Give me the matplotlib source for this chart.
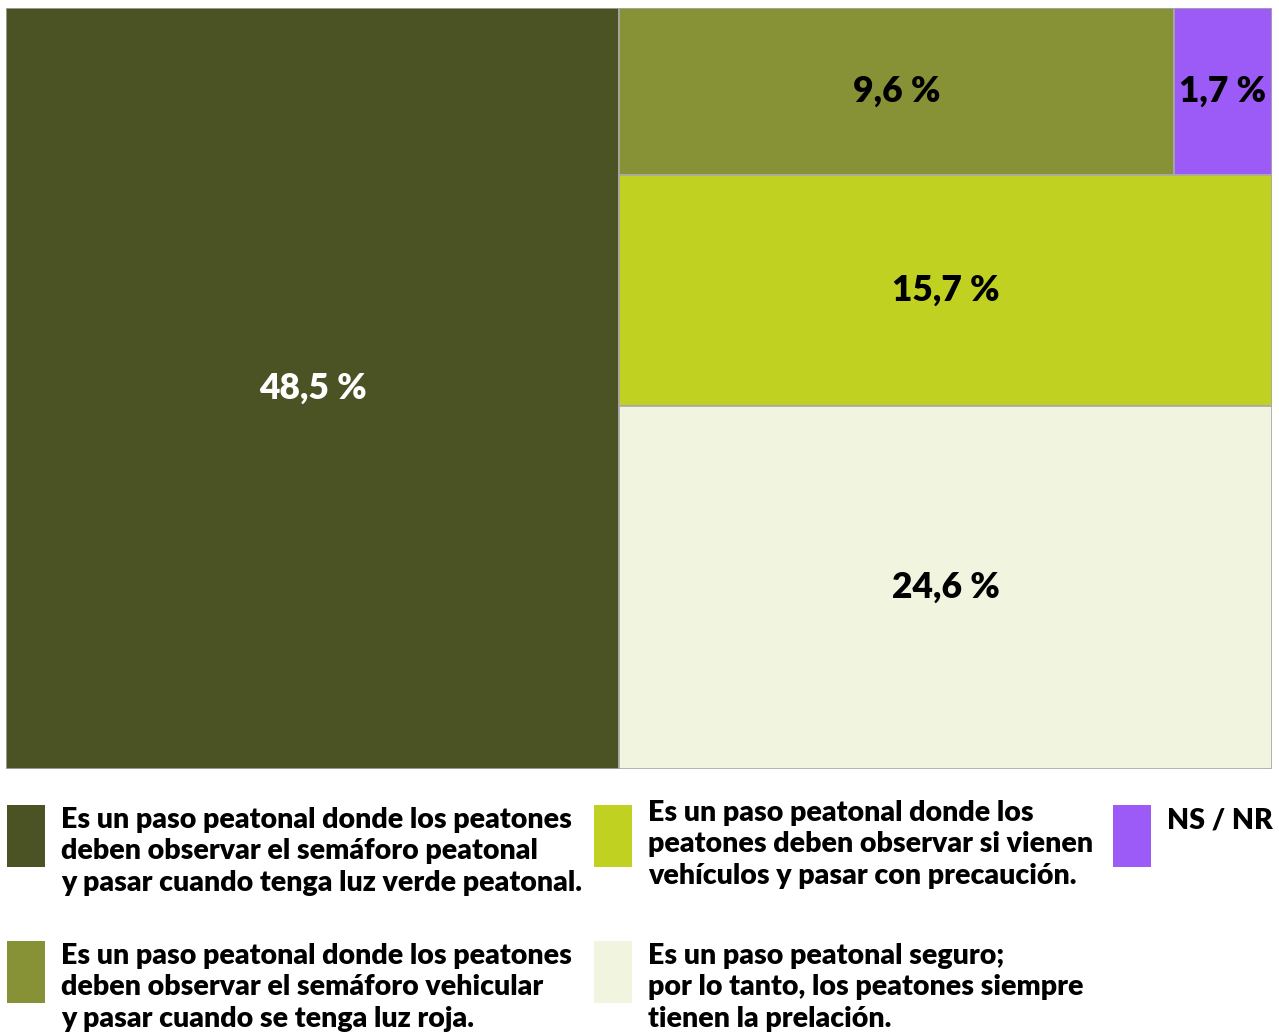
import matplotlib
matplotlib.use("Agg")
import matplotlib.pyplot as plt
from matplotlib.patches import Rectangle

plt.rcParams['font.family'] = ['Lato', 'DejaVu Sans']

# Shares of answers (percent)
values = [48.5, 9.6, 1.7, 15.7, 24.6]
value_labels = ["48,5 %", "9,6 %", "1,7 %", "15,7 %", "24,6 %"]
colors = ["#4B5324", "#879135", "#9C5AF7", "#C0D122", "#F1F4DE"]
text_colors = ["white", "black", "black", "black", "black"]
# right-hand column rows, as indices into values
right_rows = [[1, 2], [3], [4]]

legend_texts = [
    "Es un paso peatonal donde los peatones\ndeben observar el semáforo peatonal\ny pasar cuando tenga luz verde peatonal.",
    "Es un paso peatonal donde los peatones\ndeben observar el semáforo vehicular\ny pasar cuando se tenga luz roja.",
    "NS / NR",
    "Es un paso peatonal donde los\npeatones deben observar si vienen\nvehículos y pasar con precaución.",
    "Es un paso peatonal seguro;\npor lo tanto, los peatones siempre\ntienen la prelación.",
]

W, H = 1279, 1032
fig = plt.figure(figsize=(W / 100, H / 100), dpi=100)

# treemap area
ax = fig.add_axes([6 / W, 1 - 769 / H, 1266 / W, 761 / H])
ax.set_xlim(0, 1)
ax.set_ylim(1, 0)
ax.axis("off")

total = sum(values)
rects = {}
left_w = values[0] / total
rects[0] = (0, 0, left_w, 1)
right_total = total - values[0]
y = 0
for row in right_rows:
    row_sum = sum(values[i] for i in row)
    h = row_sum / right_total
    x = left_w
    for i in row:
        w = (1 - left_w) * values[i] / row_sum
        rects[i] = (x, y, w, h)
        x += w
    y += h

for i, (x, y, w, h) in rects.items():
    ax.add_patch(Rectangle((x, y), w, h, facecolor=colors[i],
                           edgecolor="#A8A8A8", linewidth=1.2))
    ax.text(x + w / 2, y + h / 2, value_labels[i], ha="center", va="center",
            fontsize=25.5, fontweight="heavy", color=text_colors[i])

# legend: (color index, patch x, patch top, text x, text top)
legend_slots = [
    (0, 7, 805, 61, 807),
    (1, 7, 941, 61, 943),
    (2, 1113, 805, 1167, 807),
    (3, 594, 805, 648, 800),
    (4, 594, 941, 648, 943),
]
for k, (ci, px, py, tx, ty) in enumerate(legend_slots):
    fig.patches.append(Rectangle((px / W, 1 - (py + 62) / H), 38 / W, 62 / H,
                                 facecolor=colors[ci], edgecolor="none",
                                 transform=fig.transFigure, figure=fig))
    fig.text(tx / W, 1 - ty / H, legend_texts[k], ha="left", va="top",
             fontsize=20.5, fontweight="heavy", color="black", linespacing=1.26)

fig.savefig("out.png", dpi=100)
